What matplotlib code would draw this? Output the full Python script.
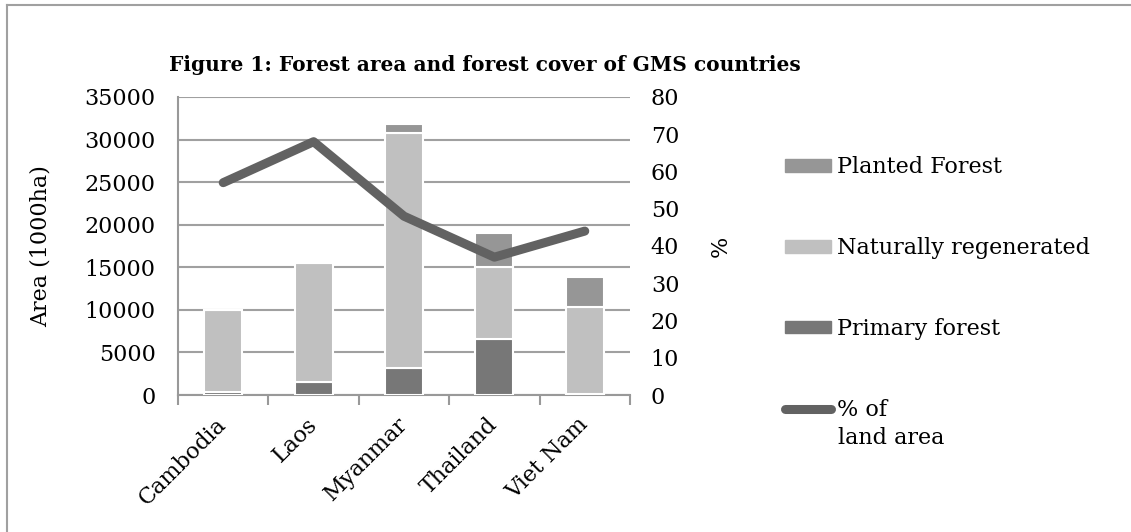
import numpy as np
import matplotlib.pyplot as plt
from matplotlib.patches import Patch
from matplotlib.lines import Line2D

plt.rcParams['font.family'] = ['DejaVu Serif']

# Data (1000 ha and % of land area)
countries = ["Cambodia", "Laos", "Myanmar", "Thailand", "Viet Nam"]
primary = [322, 1490, 3192, 6565, 80]
natural = [9628, 14037, 27614, 8421, 10285]
planted = [69, 224, 988, 3986, 3512]
pct_land = [57, 68, 48, 37, 44]

c_primary = "#777777"
c_natural = "#c0c0c0"
c_planted = "#969696"
c_line = "#626262"

fig = plt.figure(figsize=(11.31, 5.32), dpi=100)
# frame lines (top and left only, as in the scanned figure)
fig.add_artist(Line2D([0.0062, 1.0], [0.9915, 0.9915], transform=fig.transFigure,
                      color="#a0a0a0", linewidth=1.5))
fig.add_artist(Line2D([0.0062, 0.0062], [0.0, 0.9915], transform=fig.transFigure,
                      color="#a0a0a0", linewidth=1.5))

ax = fig.add_axes([0.1574, 0.2575, 0.3996, 0.5602])
x = np.arange(len(countries))
w = 0.42
bot2 = np.array(primary) + np.array(natural)
ax.bar(x, primary, w, color=c_primary, edgecolor="white", linewidth=1.5, zorder=3)
ax.bar(x, natural, w, bottom=primary, color=c_natural, edgecolor="white", linewidth=1.5, zorder=3)
ax.bar(x, planted, w, bottom=bot2, color=c_planted, edgecolor="white", linewidth=1.5, zorder=3)

ax.set_ylim(0, 35000)
ax.set_yticks(np.arange(0, 35001, 5000))
ax.set_xlim(-0.5, 4.5)
ax.set_xticks(x)
ax.set_xticklabels(countries, rotation=45, ha="right", va="center",
                   rotation_mode="anchor", fontsize=16)
ax.set_xticks(np.arange(-0.5, 5, 1), minor=True)
ax.tick_params(axis="x", which="major", length=0, pad=19)
ax.tick_params(axis="x", which="minor", length=7, width=1.5, color="#999999")
ax.tick_params(axis="y", length=0, labelsize=16, pad=16)
ax.grid(axis="y", color="#a0a0a0", linewidth=1.5, zorder=0)
for s in ["top", "right"]:
    ax.spines[s].set_visible(False)
ax.spines["left"].set_color("#999999")
ax.spines["left"].set_linewidth(1.5)
ax.spines["bottom"].set_color("#999999")
ax.spines["bottom"].set_linewidth(1.5)
ax.set_ylabel("Area (1000ha)", fontsize=16, labelpad=24)

ax2 = ax.twinx()
ax2.plot(x, pct_land, color=c_line, linewidth=6.5, solid_capstyle="round", zorder=4)
ax2.set_ylim(0, 80)
ax2.set_yticks(np.arange(0, 81, 10))
ax2.tick_params(axis="y", length=0, labelsize=16, pad=15)
for s in ["top", "right", "left", "bottom"]:
    ax2.spines[s].set_visible(False)
ax2.set_ylabel("%", fontsize=16, labelpad=22)

fig.text(0.149, 0.878, "Figure 1: Forest area and forest cover of GMS countries",
         fontsize=14.5, fontweight="bold", va="center")

handles = [Patch(color=c_planted), Patch(color=c_natural), Patch(color=c_primary),
           Line2D([0], [0], color=c_line, linewidth=6.5, solid_capstyle="round")]
labels = ["Planted Forest", "Naturally regenerated", "Primary forest", "% of"]
fig.legend(handles, labels, loc="upper left", bbox_to_anchor=(0.676, 0.744), frameon=False,
           fontsize=16, labelspacing=2.65, handlelength=2.1, handleheight=0.5,
           handletextpad=0.25)
fig.text(0.741, 0.177, "land area", fontsize=16, va="center")

fig.savefig("out.png", dpi=100)
